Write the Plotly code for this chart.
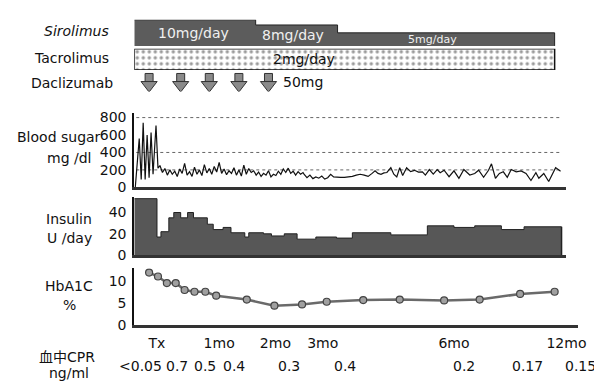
import plotly.graph_objects as go
import numpy as np

W, H = 602, 383
FONT = "DejaVu Sans, Noto Sans CJK JP"

# ---------------- data ----------------
SIRO_EDGES = [128, 251, 334, 554]
SIRO_DOSE = [10, 8, 5]
SIRO_TEXT = ["10mg/day", "8mg/day", "5mg/day"]
SIRO_TEXT_X = [188, 289, 430]

TACRO_START, TACRO_END = 128, 554
TACRO_TEXT = "2mg/day"

DAC_X = [143, 175, 204, 234, 264]
DAC_TEXT = "50mg"

BS_X_SPIKE = [129, 131, 133, 135, 137, 139, 141, 143, 145, 147, 150, 152]
BS_V_SPIKE = [0, 300, 560, 90, 740, 90, 600, 110, 630, 150, 710, 220]
BS_V_MID = [250, 170, 215, 140, 200, 150, 185, 125, 210, 160, 275, 140, 180, 125,
            230, 150, 200, 135, 260, 165, 215, 150, 240, 175, 285, 160, 210, 145,
            190, 160, 225, 140, 200, 130, 255, 150, 215, 170, 190, 140, 175, 125,
            160, 140, 190, 120, 150, 135, 185, 150, 210, 170, 220, 160, 185, 140,
            180, 150, 170]
BS_X_LATE = [300, 303, 306, 309, 312, 315, 318, 321, 324, 327, 330, 333, 337, 341,
             345, 349, 353, 357, 361, 365, 369, 372, 375, 378, 381, 384, 388, 391,
             394, 397, 400, 404, 408, 412, 416, 420, 423, 427, 431, 435, 438, 442,
             447, 452, 457, 462, 468, 473, 477, 482, 487, 490, 494, 498, 502, 506,
             510, 515, 520, 525, 530, 535, 538, 543, 548, 555, 560]
BS_V_LATE = [150, 110, 140, 100, 120, 105, 130, 95, 110, 150, 120, 115, 115, 115,
             118, 125, 140, 150, 140, 125, 160, 190, 160, 150, 165, 170, 225, 150,
             120, 225, 135, 225, 180, 195, 175, 178, 141, 204, 152, 204, 167, 196,
             122, 189, 104, 204, 141, 159, 196, 115, 196, 270, 104, 159, 178, 115,
             204, 178, 189, 159, 78, 167, 104, 159, 67, 226, 185]
BS_GRID = [200, 400, 800]

INS_EDGES = [128, 151, 155, 163, 168, 175, 182, 188, 202, 208, 218, 226, 240, 244,
             259, 267, 280, 293, 312, 333, 349, 388, 425, 452, 473, 500, 523, 561]
INS_VALS = [53, 17, 22, 35, 40, 35, 40, 35, 29, 24, 26, 21, 17, 21, 20, 18, 20, 15,
            17, 16, 21, 19, 27.5, 26, 27.5, 24, 26.6]

HBA_X = [143, 152, 161, 170, 179, 189, 200, 211, 242, 270, 298, 323, 360, 397, 442,
         478, 519, 554]
HBA_V = [12.0, 11.1, 9.6, 9.6, 8.0, 7.6, 7.6, 6.7, 5.8, 4.4, 4.7, 5.3, 5.7, 5.8,
         5.6, 5.8, 7.1, 7.6]

TIME_LABELS = ["Tx", "1mo", "2mo", "3mo", "6mo", "12mo"]
TIME_POS = [151, 214, 271, 319, 452, 566]

CPR_LABELS = ["<0.05", "0.7", "0.5", "0.4", "0.3", "0.4", "0.2", "0.17", "0.15"]
CPR_POS = [134, 171, 200, 229, 285, 342, 462, 527, 580]

# ---------------- helpers ----------------
def px(x):
    return x / W

def py(y):
    return 1 - y / H

bs_mid_x = list(np.arange(154, 154 + 2.5 * len(BS_V_MID), 2.5)[:len(BS_V_MID)])
BS_X = BS_X_SPIKE + bs_mid_x + BS_X_LATE
BS_V = BS_V_SPIKE + BS_V_MID + BS_V_LATE

fig = go.Figure()

# Sirolimus step bar
fig.add_trace(go.Scatter(x=SIRO_EDGES, y=SIRO_DOSE + [SIRO_DOSE[-1]], mode="lines",
                         line=dict(shape="hv", color="#222", width=1),
                         fill="tozeroy", fillcolor="#5c5c5c",
                         xaxis="x4", yaxis="y4", hoverinfo="skip"))
fig.add_trace(go.Scatter(x=[SIRO_EDGES[-1], SIRO_EDGES[-1]], y=[0, SIRO_DOSE[-1]], mode="lines",
                         line=dict(color="#222", width=1), xaxis="x4", yaxis="y4"))

# Tacrolimus bar
fig.add_trace(go.Bar(y=[0.5], x=[TACRO_END - TACRO_START], base=[TACRO_START],
                     orientation="h", width=1,
                     marker=dict(color="white", line=dict(color="#111", width=1.5),
                                 pattern=dict(shape=".", fgcolor="#333", bgcolor="white",
                                              size=6, solidity=0.25)),
                     xaxis="x4", yaxis="y5", hoverinfo="skip"))

# Daclizumab arrows
fig.add_trace(go.Scatter(x=DAC_X, y=[0.72] * len(DAC_X), mode="markers",
                         marker=dict(symbol="square", size=8, color="#8a8a8a",
                                     line=dict(color="#333", width=1)),
                         xaxis="x4", yaxis="y6"))
fig.add_trace(go.Scatter(x=DAC_X, y=[0.33] * len(DAC_X), mode="markers",
                         marker=dict(symbol="triangle-down", size=14, color="#8a8a8a",
                                     line=dict(color="#333", width=1)),
                         xaxis="x4", yaxis="y6"))

# Blood sugar gridlines
for g in BS_GRID:
    fig.add_trace(go.Scatter(x=[130, 560], y=[g, g], mode="lines",
                             line=dict(color="#666", width=1, dash="dot"),
                             xaxis="x", yaxis="y", hoverinfo="skip"))
# Blood sugar line
fig.add_trace(go.Scatter(x=BS_X, y=BS_V, mode="lines",
                         line=dict(color="#111", width=1.2), xaxis="x", yaxis="y"))

# Insulin
fig.add_trace(go.Scatter(x=INS_EDGES, y=INS_VALS + [INS_VALS[-1]], mode="lines",
                         line=dict(shape="hv", color="#222", width=1),
                         fill="tozeroy", fillcolor="#575757",
                         xaxis="x2", yaxis="y2", hoverinfo="skip"))
fig.add_trace(go.Scatter(x=[INS_EDGES[-1], INS_EDGES[-1]], y=[0, INS_VALS[-1]], mode="lines",
                         line=dict(color="#222", width=1.5), xaxis="x2", yaxis="y2"))

# HbA1c
fig.add_trace(go.Scatter(x=HBA_X, y=HBA_V, mode="lines+markers",
                         line=dict(color="#6a6a6a", width=2.5),
                         marker=dict(symbol="circle", size=7, color="#a0a0a0",
                                     line=dict(color="#444", width=1.2)),
                         xaxis="x3", yaxis="y3"))

common_y = dict(showline=True, linecolor="#111", linewidth=2, ticks="", showgrid=False,
                zeroline=False, tickfont=dict(size=14, color="#111", family=FONT),
                ticklabelstandoff=3)
common_x = dict(showline=True, linecolor="#333", linewidth=2.5, ticks="", showgrid=False,
                zeroline=False, showticklabels=False)

fig.update_layout(
    width=W, height=H, margin=dict(l=0, r=0, t=0, b=0),
    paper_bgcolor="white", plot_bgcolor="rgba(0,0,0,0)", showlegend=False,
    font=dict(family=FONT, size=14, color="#111"),
    xaxis=dict(domain=[px(128), px(566)], range=[128, 566], anchor="y", **common_x),
    yaxis=dict(domain=[py(181), py(104.5)], range=[0, 850], anchor="x",
               tickvals=[0, 200, 400, 600, 800], **common_y),
    xaxis2=dict(domain=[px(128), px(566)], range=[128, 566], anchor="y2", **common_x),
    yaxis2=dict(domain=[py(251), py(190.5)], range=[0, 55], anchor="x2",
                tickvals=[0, 20, 40], **common_y),
    xaxis3=dict(domain=[px(128), px(578)], range=[128, 578], anchor="y3",
                showline=True, linecolor="#333", linewidth=2.5, ticks="", showgrid=False,
                zeroline=False, tickvals=TIME_POS, ticktext=TIME_LABELS,
                tickfont=dict(size=14, color="#111", family=FONT), ticklabelstandoff=4),
    yaxis3=dict(domain=[py(323), py(264.5)], range=[0, 13], anchor="x3",
                tickvals=[0, 5, 10], **common_y),
    xaxis4=dict(domain=[px(128), px(566)], range=[128, 566], anchor="y4", visible=False),
    yaxis4=dict(domain=[py(35), py(8)], range=[0, 10], anchor="x4", visible=False),
    yaxis5=dict(domain=[py(60), py(38)], range=[0, 1], anchor="x4", visible=False),
    yaxis6=dict(domain=[py(82), py(62)], range=[0, 1], anchor="x4", visible=False),
)

ann = []
def lab(text, x, y, xanchor="center", size=14, italic=False, color="#111"):
    t = f"<i>{text}</i>" if italic else text
    ann.append(dict(text=t, x=px(x), y=py(y), xref="paper", yref="paper",
                    xanchor=xanchor, yanchor="middle", showarrow=False,
                    font=dict(size=size, color=color, family=FONT)))

lab("Sirolimus", 104, 20, "right", italic=True)
lab("Tacrolimus", 104, 47, "right")
lab("Daclizumab", 108, 73, "right")
lab("Blood sugar", 96, 129, "right")
lab("mg /dl", 62, 151)
lab("Insulin", 62, 214)
lab("U /day", 62, 233)
lab("HbA1C", 62, 283)
lab("%", 62, 302)
lab("血中CPR", 60, 356)
lab("ng/ml", 62, 373)

for t, x in zip(CPR_LABELS, CPR_POS):
    lab(t, x, 365)

# dose texts (positioned on the library's axes)
for t, x, d in zip(SIRO_TEXT, SIRO_TEXT_X, SIRO_DOSE):
    ann.append(dict(text=t, x=x, y=d * 0.5 if d > 5 else 2.6, xref="x4", yref="y4",
                    showarrow=False, font=dict(size=14 if d > 5 else 11, color="#f0f0f0",
                                                family=FONT)))
ann.append(dict(text=TACRO_TEXT, x=300, y=0.5, xref="x4", yref="y5", showarrow=False,
                font=dict(size=14, color="#111", family=FONT)))
ann.append(dict(text=DAC_TEXT, x=DAC_X[-1] + 13, y=0.5, xref="x4", yref="y6",
                xanchor="left", showarrow=False, font=dict(size=14, color="#111", family=FONT)))

fig.update_layout(annotations=ann)
fig.write_html("out.html")
